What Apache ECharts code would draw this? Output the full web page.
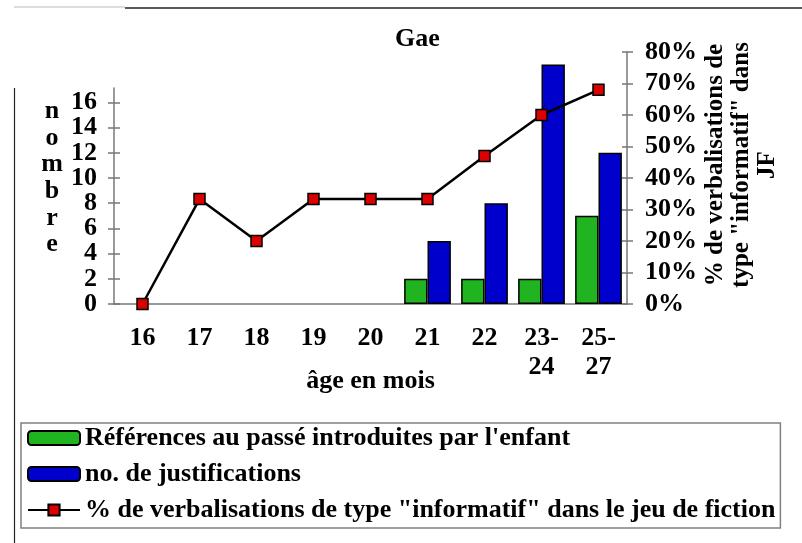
<!DOCTYPE html>
<html><head><meta charset="utf-8">
<script src="https://cdn.jsdelivr.net/npm/echarts@6/dist/echarts.min.js"></script>
<style>html,body{margin:0;padding:0;background:#fff}#c{width:802px;height:543px}</style>
</head><body><div id="c"></div>
<script>
// ---- data ----
const categories = ['16','17','18','19','20','21','22','23-\n24','25-\n27'];
const references = [null,null,null,null,null,2,2,2,7];
const justifications = [null,null,null,null,null,5,8,19,12];
const informatifPct = [0,33.3,20,33.3,33.3,33.3,47,60,68];
const leftTicks = [0,2,4,6,8,10,12,14,16];
const rightTicks = [0,10,20,30,40,50,60,70,80];
const seriesNames = ["Références au passé introduites par l'enfant", 'no. de justifications', '% de verbalisations de type "informatif" dans le jeu de fiction'];

const FONT = "'Liberation Serif','Times New Roman',serif";
const AX = '#777';
const txt = {fontFamily: FONT, fontWeight: 'bold', fontSize: 26, color: '#000'};
const leftMax = leftTicks[leftTicks.length - 1];
const rightMax = rightTicks[rightTicks.length - 1];
const leftStep = leftTicks[1] - leftTicks[0];

// plot geometry (pixels)
const G_LEFT = 114, G_RIGHT = 175, G_TOP = 52, G_BOTTOM = 239;
const PX_PER_UNIT = (543 - G_TOP - G_BOTTOM) / 20;   // left scale: 0-20 spans the plot (20 <-> 80%)
const yPix = v => (543 - G_BOTTOM) - v * PX_PER_UNIT;

const chart = echarts.init(document.getElementById('c'), null, {renderer: 'canvas'});
chart.setOption({
  animation: false,
  backgroundColor: '#fff',
  title: {text: 'Gae', left: 395, top: 26, padding: 0,
    textStyle: Object.assign({}, txt)},
  graphic: [
    {type: 'line', shape: {x1: 14, y1: 7, x2: 125, y2: 7}, style: {stroke: '#bbb', lineWidth: 1}},
    {type: 'line', shape: {x1: 125, y1: 8, x2: 802, y2: 8}, style: {stroke: '#222', lineWidth: 1.5}},
    {type: 'line', shape: {x1: 14.5, y1: 88, x2: 14.5, y2: 543}, style: {stroke: '#222', lineWidth: 1.2}}
  ],
  legend: {
    orient: 'vertical', left: 21, top: 423,
    padding: [2, 5, 5, 6], itemGap: 10, itemWidth: 52, itemHeight: 14,
    borderColor: '#808080', borderWidth: 1.5,
    textStyle: Object.assign({}, txt),
    data: seriesNames
  },
  grid: [
    {left: G_LEFT, right: G_RIGHT, top: G_TOP, bottom: G_BOTTOM},                 // 0 main plot
    {left: G_LEFT, right: G_RIGHT, top: yPix(leftMax), bottom: G_BOTTOM},         // 1 left ticks 0-16
    {left: G_LEFT, right: G_RIGHT, top: 88, bottom: G_BOTTOM},                    // 2 left axis line
    {left: G_LEFT, right: G_RIGHT, top: yPix(leftMax - leftStep), bottom: 543 - yPix(leftStep)} // 3 odd labels
  ],
  xAxis: [
    {type: 'category', gridIndex: 0, data: categories,
      axisLine: {lineStyle: {color: AX, width: 1.5}}, axisTick: {show: false},
      axisLabel: Object.assign({margin: 20, lineHeight: 29, interval: 0}, txt),
      name: 'âge en mois', nameLocation: 'middle', nameGap: 64, nameMoveOverlap: false,
      nameTextStyle: Object.assign({}, txt)},
    {type: 'value', gridIndex: 1, show: false},
    {type: 'value', gridIndex: 2, show: false},
    {type: 'value', gridIndex: 3, show: false}
  ],
  yAxis: [
    {type: 'value', gridIndex: 0, position: 'left', min: 0, max: 20,
      axisLine: {show: false}, axisTick: {show: false}, axisLabel: {show: false}, splitLine: {show: false},
      name: 'n\no\nm\nb\nr\ne', nameLocation: 'middle', nameRotate: 0, nameGap: 62, nameMoveOverlap: false,
      nameTextStyle: Object.assign({align: 'center', lineHeight: 26.6}, txt)},
    {type: 'value', gridIndex: 0, position: 'right', min: 0, max: rightMax, interval: 10,
      axisLine: {show: true, lineStyle: {color: AX, width: 1.5}},
      axisTick: {show: true, length: 6, lineStyle: {color: AX, width: 1.5}},
      axisLabel: Object.assign({margin: 18, formatter: '{value}%', showMinLabel: true, showMaxLabel: true}, txt),
      splitLine: {show: false},
      name: '% de verbalisations de\ntype "informatif" dans\nJF', nameLocation: 'middle', nameRotate: 90, nameGap: 76, nameMoveOverlap: false,
      nameTextStyle: Object.assign({}, txt, {fontSize: 25, lineHeight: 26, padding: [0, 0, 0, 26]})},
    {type: 'value', gridIndex: 0, position: 'right', min: 0, max: rightMax, interval: 10,
      axisLine: {show: false}, axisLabel: {show: false}, splitLine: {show: false},
      axisTick: {show: true, inside: true, length: 5, lineStyle: {color: AX, width: 1.5}}},
    // left labels 0,4,8,12,16
    {type: 'value', gridIndex: 1, position: 'left', min: 0, max: leftMax, interval: 2 * leftStep,
      axisLine: {show: false}, axisTick: {show: false},
      axisLabel: Object.assign({margin: 17, showMinLabel: true, showMaxLabel: true}, txt),
      splitLine: {show: false}},
    // left ticks outside
    {type: 'value', gridIndex: 1, position: 'left', min: 0, max: leftMax, interval: leftStep,
      axisLine: {show: false}, axisLabel: {show: false}, splitLine: {show: false},
      axisTick: {show: true, length: 6, lineStyle: {color: AX, width: 1.5}}},
    // left ticks inside
    {type: 'value', gridIndex: 1, position: 'left', min: 0, max: leftMax, interval: leftStep,
      axisLine: {show: false}, axisLabel: {show: false}, splitLine: {show: false},
      axisTick: {show: true, inside: true, length: 6, lineStyle: {color: AX, width: 1.5}}},
    // left axis line
    {type: 'value', gridIndex: 2, position: 'left', min: 0, max: 1,
      axisLine: {show: true, lineStyle: {color: AX, width: 1.5}},
      axisTick: {show: false}, axisLabel: {show: false}, splitLine: {show: false}},
    // left labels 2,6,10,14
    {type: 'value', gridIndex: 3, position: 'left', min: leftStep, max: leftMax - leftStep, interval: 2 * leftStep,
      axisLine: {show: false}, axisTick: {show: false},
      axisLabel: Object.assign({margin: 17, showMinLabel: true, showMaxLabel: true}, txt),
      splitLine: {show: false}}
  ],
  series: [
    {name: seriesNames[0], type: 'bar', xAxisIndex: 0, yAxisIndex: 0, data: references,
      barGap: '0%', barCategoryGap: '18%',
      itemStyle: {color: '#20b520', borderColor: '#000', borderWidth: 1.5}},
    {name: seriesNames[1], type: 'bar', xAxisIndex: 0, yAxisIndex: 0, data: justifications,
      barGap: '0%', barCategoryGap: '18%',
      itemStyle: {color: '#0000cc', borderColor: '#000', borderWidth: 1.5}},
    {name: seriesNames[2], type: 'line', xAxisIndex: 0, yAxisIndex: 1, data: informatifPct,
      symbol: 'rect', symbolSize: 11, z: 5,
      lineStyle: {color: '#000', width: 2.5},
      itemStyle: {color: '#dd0000', borderColor: '#000', borderWidth: 1.5}}
  ]
});
</script></body></html>
